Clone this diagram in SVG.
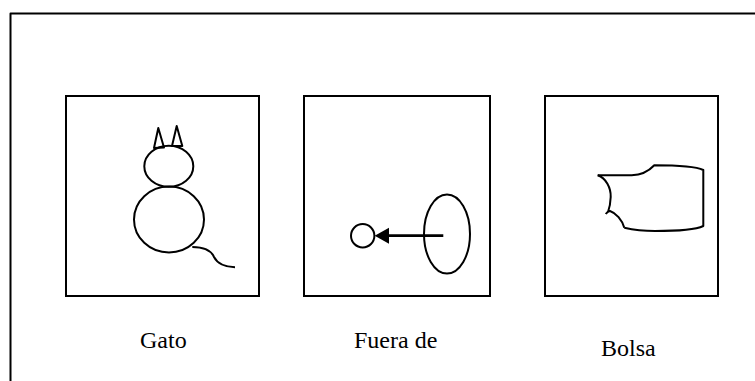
<svg xmlns="http://www.w3.org/2000/svg" width="755" height="381" viewBox="0 0 755 381">
<style>
.s{fill:none;stroke:#000;stroke-width:2;stroke-linejoin:round}
.b{fill:#fff;stroke:#000;stroke-width:2}
text{font-family:"Liberation Serif","Times New Roman",serif;font-size:24px;fill:#000}
</style>
<rect width="755" height="381" fill="#fff"/>
<g id="frame"><path class="s" d="M10.500 381V13.500H755"/></g>
<g id="gato">
<rect class="b" x="66" y="96" width="193" height="200"/>
<ellipse class="s" cx="168.800" cy="166.200" rx="24.500" ry="20.500"/>
<ellipse class="s" cx="169" cy="219.500" rx="35" ry="33"/>
<path class="s" d="M154 148L158.300 128L164 147.500ZM172 146L176.700 126L182.300 146Z"/>
<path class="s" d="M192.300 247C204 247 211 250 214 257C217 263 225 267 235 267.300"/>
<text x="140" y="348">Gato</text>
</g>
<g id="fuera">
<rect class="b" x="304" y="96" width="186" height="200"/>
<ellipse class="s" cx="447" cy="234" rx="23" ry="39.500"/>
<circle class="s" cx="362.700" cy="235.800" r="11.700"/>
<path d="M443.300 235.700H386" stroke="#000" stroke-width="2.700" fill="none"/>
<path d="M374.700 235.700L389 227.700V243.700Z" fill="#000"/>
<text x="354" y="348">Fuera de</text>
</g>
<g id="bolsa">
<rect class="b" x="545" y="96" width="173" height="200"/>
<path class="s" d="M597.700 175.300H631.700C641 175 648 172 654.300 165.300C675 165.300 695 166 703.300 170V226C695 230 670 231 655 231C640 231 630 229 624.300 227.700"/>
<path class="s" d="M597.700 175.300C606 178 611 188 610.700 197C610.500 203 609.500 208 608 212M605.700 214C608 211 609 211 610 211C616 213 622 220 624.300 227.700"/>
<text x="601" y="356">Bolsa</text>
</g>
</svg>
